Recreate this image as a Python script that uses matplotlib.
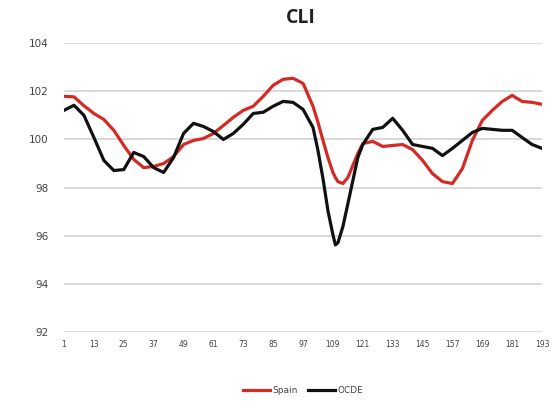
import numpy as np
import matplotlib.pyplot as plt

months = [1, 5, 9, 13, 17, 21, 25, 29, 33, 37, 41, 45, 49, 53, 57, 61, 65, 69,
          73, 77, 81, 85, 89, 93, 97, 101, 103, 105, 107, 109, 110, 111, 113,
          115, 117, 119, 121, 125, 129, 133, 137, 141, 145, 149, 153, 157, 161,
          165, 169, 173, 177, 181, 185, 189, 193]

spain = [101.79, 101.77, 101.4, 101.08, 100.83, 100.38, 99.75, 99.17, 98.83,
         98.88, 99.0, 99.29, 99.79, 99.96, 100.04, 100.25, 100.58, 100.92,
         101.21, 101.38, 101.79, 102.25, 102.5, 102.54, 102.33, 101.38, 100.71,
         99.96, 99.25, 98.63, 98.42, 98.25, 98.17, 98.42, 98.92, 99.42, 99.83,
         99.92, 99.71, 99.75, 99.79, 99.58, 99.13, 98.58, 98.25, 98.17, 98.79,
         99.96, 100.79, 101.21, 101.58, 101.83, 101.58, 101.54, 101.46]

ocde = [101.21, 101.42, 101.0, 100.08, 99.13, 98.71, 98.75, 99.46, 99.29,
        98.83, 98.63, 99.25, 100.25, 100.67, 100.54, 100.33, 100.0, 100.25,
        100.63, 101.08, 101.13, 101.38, 101.58, 101.54, 101.25, 100.5, 99.54,
        98.38, 97.04, 96.04, 95.62, 95.71, 96.38, 97.33, 98.29, 99.25, 99.79,
        100.42, 100.5, 100.88, 100.38, 99.79, 99.71, 99.63, 99.33, 99.63, 99.96,
        100.29, 100.46, 100.42, 100.38, 100.38, 100.08, 99.79, 99.63]

xticks = list(range(1, 194, 12))
yticks = [92, 94, 96, 98, 100, 102, 104]

fig = plt.figure(figsize=(5.52, 4.11), dpi=100)
ax = fig.add_axes([0.116, 0.192, 0.866, 0.703])

ax.plot(months, spain, color='#d42a26', lw=2.3, label='Spain', zorder=3)
ax.plot(months, ocde, color='#111111', lw=2.3, label='OCDE', zorder=4)

ax.set_xlim(1, 193)
ax.set_ylim(92, 104)
ax.set_yticks(yticks)
ax.set_xticks(xticks)
ax.tick_params(axis='both', length=0, colors='#444444')
ax.tick_params(axis='y', labelsize=7.5, pad=11)
ax.tick_params(axis='x', labelsize=5.5, pad=6)
ax.yaxis.grid(True, color='#d6d6d6', lw=1.3)
ax.set_axisbelow(True)
for s in ax.spines.values():
    s.set_visible(False)

fig.text(0.545, 0.955, 'CLI', ha='center', va='center', fontsize=14,
         fontweight='bold', family='Open Sans', color='#222222')

ax.legend(loc='upper center', bbox_to_anchor=(0.5, -0.16), ncol=2, frameon=False,
          fontsize=6.5, handlelength=3, columnspacing=1.2, handletextpad=0.2,
          labelcolor='#444444')

fig.savefig('out.png', dpi=100)
